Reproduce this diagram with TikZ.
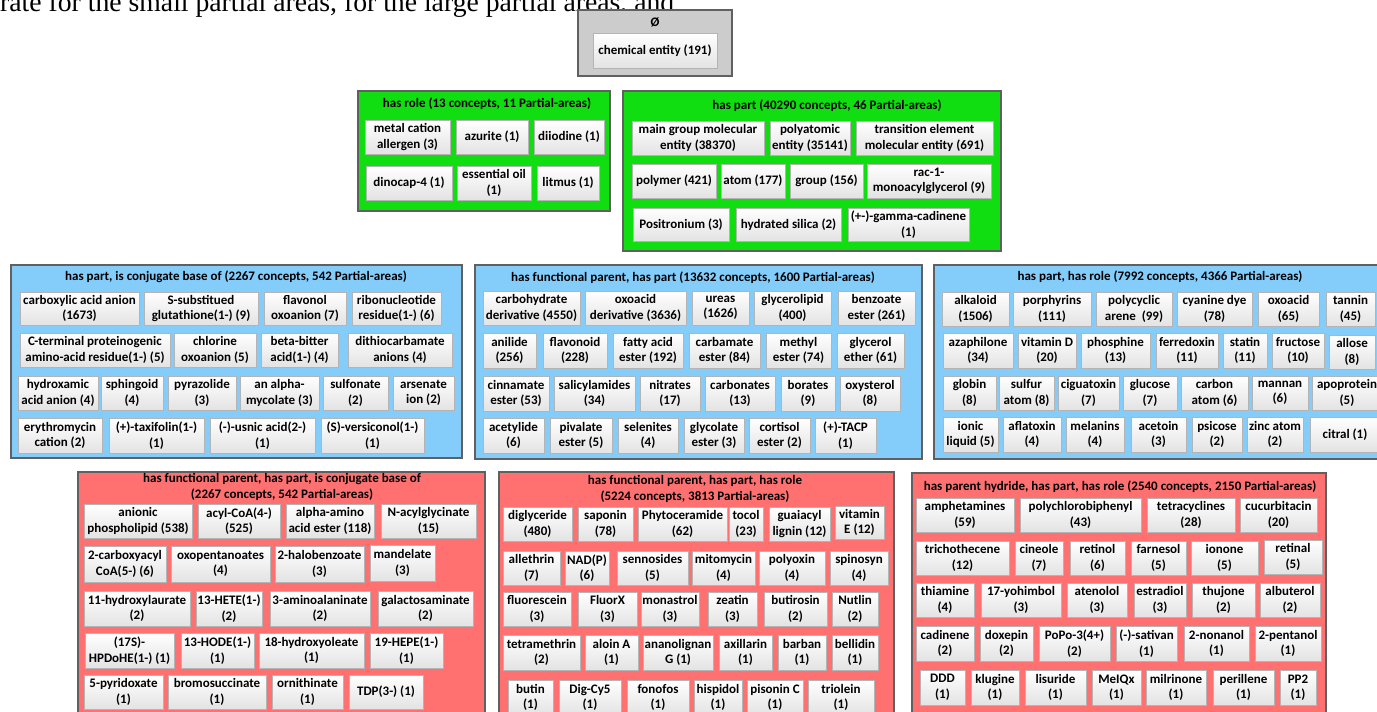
\documentclass[tikz,border=0pt]{standalone}
\usepackage{fontspec}
\setmainfont{Carlito}
\newfontfamily\serifcap{Liberation Serif}
\definecolor{grpgray}{RGB}{204,204,204}
\definecolor{grpgreen}{RGB}{16,222,16}
\definecolor{grpblue}{RGB}{132,204,250}
\definecolor{grpred}{RGB}{255,112,112}
\definecolor{grpline}{RGB}{96,96,96}
\definecolor{paline}{RGB}{180,180,180}
\newcommand\pafont{\bfseries\fontsize{13}{15.5}\selectfont}
\newcommand\B[7]{\node[#6, minimum width={(#4)-(#2)}, minimum height={(#5)-(#3)}] (#1) at ({((#2)+(#4))/2},{-((#3)+(#5))/2}) {#7};}
\tikzset{
  grp/.style={draw=grpline, line width=1.3pt, inner sep=0},
  pa/.style={draw=paline, line width=0.6pt, top color=white, bottom color=black!11, inner sep=0, align=center, font=\pafont},
  ttl/.style={inner sep=0, align=center, font=\pafont},
}
\begin{document}
\begin{tikzpicture}[x=1pt,y=1pt]
\useasboundingbox (0,0) rectangle (1377,-712);
\clip (0,0) rectangle (1377,-712);
\fill[white] (0,0) rectangle (1377,-712);
% caption fragment
\node[anchor=base west, inner sep=0, font=\serifcap\fontsize{27.7}{30}\selectfont] (cap) at (0,-11.5) {rate for the small partial areas, for the large partial areas, and};
% root
\B{root}{578}{10}{732}{76}{grp, fill=grpgray}{}
\node[ttl] (roott) at (655,-22) {Ø};
\B{ce}{593}{33}{717}{68}{pa}{chemical entity (191)}
% has role
\B{role}{358}{91}{610}{211}{grp, fill=grpgreen}{}
\node[ttl] (rolet) at (487,-104) {has role (13 concepts, 11 Partial-areas)};
\B{r1}{365}{120}{450}{154}{pa}{metal cation\\allergen (3)}
\B{r2}{456}{120}{528}{154}{pa}{azurite (1)}
\B{r3}{534}{120}{604}{154}{pa}{diiodine (1)}
\B{r4}{366}{166}{452}{200}{pa}{dinocap-4 (1)}
\B{r5}{457}{166}{531}{200}{pa}{essential oil\\(1)}
\B{r6}{537}{166}{599}{200}{pa}{litmus (1)}
% has part
\B{part}{623}{91}{1001}{251}{grp, fill=grpgreen}{}
\node[ttl] (partt) at (827,-106) {has part (40290 concepts, 46 Partial-areas)};
\B{p1}{632}{121}{764}{155}{pa}{main group molecular\\entity (38370)}
\B{p2}{770}{121}{850}{155}{pa}{polyatomic\\entity (35141)}
\B{p3}{856}{121}{993}{155}{pa}{transition element\\molecular entity (691)}
\B{p4}{632}{164}{716}{198}{pa}{polymer (421)}
\B{p5}{721}{164}{785}{198}{pa}{atom (177)}
\B{p6}{790}{164}{863}{198}{pa}{group (156)}
\B{p7}{867}{164}{991}{198}{pa}{rac-1-\\monoacylglycerol (9)}
\B{p8}{633}{208}{729}{241}{pa}{Positronium (3)}
\B{p9}{736}{208}{841}{241}{pa}{hydrated silica (2)}
\B{p10}{848}{208}{969}{241}{pa}{(+-)-gamma-cadinene\\(1)}
% blue left
\B{bl}{11}{265}{462}{458}{grp, fill=grpblue}{}
\node[ttl] (blt) at (236,-277) {has part, is conjugate base of (2267 concepts, 542 Partial-areas)};
\B{bl1}{20}{292}{139}{325}{pa}{carboxylic acid anion\\(1673)}
\B{bl2}{144}{292}{258}{325}{pa}{S-substitued\\glutathione(1-) (9)}
\B{bl3}{264}{292}{346}{325}{pa}{flavonol\\oxoanion (7)}
\B{bl4}{352}{292}{441}{325}{pa}{ribonucleotide\\residue(1-) (6)}
\B{bl5}{20}{333}{170}{367}{pa}{C-terminal proteinogenic\\amino-acid residue(1-) (5)}
\B{bl6}{174}{333}{256}{367}{pa}{chlorine\\oxoanion (5)}
\B{bl7}{261}{333}{338}{367}{pa}{beta-bitter\\acid(1-) (4)}
\B{bl8}{348}{333}{452}{367}{pa}{dithiocarbamate\\anions (4)}
\B{bl9}{18}{376}{98}{410}{pa}{hydroxamic\\acid anion (4)}
\B{bl10}{101}{376}{163}{410}{pa}{sphingoid\\(4)}
\B{bl11}{168}{376}{236}{410}{pa}{pyrazolide\\(3)}
\B{bl12}{240}{376}{319}{410}{pa}{an alpha-\\mycolate (3)}
\B{bl13}{323}{376}{388}{410}{pa}{sulfonate\\(2)}
\B{bl14}{393}{376}{454}{410}{pa}{arsenate\\ion (2)}
\B{bl15}{18}{418}{102}{453}{pa}{erythromycin\\cation (2)}
\B{bl16}{109}{418}{204}{453}{pa}{(+)-taxifolin(1-)\\(1)}
\B{bl17}{210}{418}{315}{453}{pa}{(-)-usnic acid(2-)\\(1)}
\B{bl18}{321}{418}{424}{453}{pa}{(S)-versiconol(1-)\\(1)}
% blue middle
\B{bm}{475}{265}{922}{459}{grp, fill=grpblue}{}
\node[ttl] (bmt) at (693,-278) {has functional parent, has part (13632 concepts, 1600 Partial-areas)};
\B{bm1}{483}{291}{580}{325}{pa}{carbohydrate\\derivative (4550)}
\B{bm2}{585}{291}{686}{325}{pa}{oxoacid\\derivative (3636)}
\B{bm3}{692}{291}{749}{325}{pa}{ureas\\(1626)}
\B{bm4}{754}{291}{831}{325}{pa}{glycerolipid\\(400)}
\B{bm5}{838}{291}{915}{325}{pa}{benzoate\\ester (261)}
\B{bm6}{483}{333}{536}{368}{pa}{anilide\\(256)}
\B{bm7}{543}{333}{607}{368}{pa}{flavonoid\\(228)}
\B{bm8}{613}{333}{683}{368}{pa}{fatty acid\\ester (192)}
\B{bm9}{689}{333}{760}{368}{pa}{carbamate\\ester (84)}
\B{bm10}{766}{333}{831}{368}{pa}{methyl\\ester (74)}
\B{bm11}{837}{333}{904}{368}{pa}{glycerol\\ether (61)}
\B{bm12}{483}{376}{549}{411}{pa}{cinnamate\\ester (53)}
\B{bm13}{554}{376}{635}{411}{pa}{salicylamides\\(34)}
\B{bm14}{640}{376}{700}{411}{pa}{nitrates\\(17)}
\B{bm15}{705}{376}{775}{411}{pa}{carbonates\\(13)}
\B{bm16}{781}{376}{835}{411}{pa}{borates\\(9)}
\B{bm17}{840}{376}{900}{411}{pa}{oxysterol\\(8)}
\B{bm18}{483}{418}{544}{453}{pa}{acetylide\\(6)}
\B{bm19}{550}{418}{612}{453}{pa}{pivalate\\ester (5)}
\B{bm20}{618}{418}{678}{453}{pa}{selenites\\(4)}
\B{bm21}{684}{418}{744}{453}{pa}{glycolate\\ester (3)}
\B{bm22}{749}{418}{810}{453}{pa}{cortisol\\ester (2)}
\B{bm23}{815}{418}{876}{453}{pa}{(+)-TACP\\(1)}
% blue right
\B{br}{934}{265}{1395}{459}{grp, fill=grpblue}{}
\node[ttl] (brt) at (1160,-277) {has part, has role (7992 concepts, 4366 Partial-areas)};
\B{br1}{942}{292}{1009}{326}{pa}{alkaloid\\(1506)}
\B{br2}{1013}{292}{1091}{326}{pa}{porphyrins\\(111)}
\B{br3}{1096}{292}{1172}{326}{pa}{polycyclic\\arene~ (99)}
\B{br4}{1177}{292}{1252}{326}{pa}{cyanine dye\\(78)}
\B{br5}{1258}{292}{1319}{326}{pa}{oxoacid\\(65)}
\B{br6}{1326}{292}{1375}{326}{pa}{tannin\\(45)}
\B{br7}{943}{333}{1013}{368}{pa}{azaphilone\\(34)}
\B{br8}{1018}{333}{1076}{368}{pa}{vitamin D\\(20)}
\B{br9}{1081}{333}{1150}{368}{pa}{phosphine\\(13)}
\B{br10}{1156}{333}{1218}{368}{pa}{ferredoxin\\(11)}
\B{br11}{1223}{333}{1267}{368}{pa}{statin\\(11)}
\B{br12}{1272}{333}{1324}{368}{pa}{fructose\\(10)}
\B{br13}{1329}{335}{1375}{369}{pa}{allose\\(8)}
\B{br14}{943}{376}{996}{410}{pa}{globin\\(8)}
\B{br15}{999}{376}{1054}{410}{pa}{sulfur\\atom (8)}
\B{br16}{1058}{376}{1119}{410}{pa}{ciguatoxin\\(7)}
\B{br17}{1123}{376}{1177}{410}{pa}{glucose\\(7)}
\B{br18}{1181}{376}{1248}{410}{pa}{carbon\\atom (6)}
\B{br19}{1252}{376}{1308}{410}{pa}{mannan\\(6)}
\B{br20}{1312}{376}{1382}{410}{pa}{apoprotein\\(5)}
\B{br21}{943}{417}{998}{452}{pa}{ionic\\liquid (5)}
\B{br22}{1003}{417}{1061}{452}{pa}{aflatoxin\\(4)}
\B{br23}{1066}{417}{1124}{452}{pa}{melanins\\(4)}
\B{br24}{1131}{417}{1186}{452}{pa}{acetoin\\(3)}
\B{br25}{1192}{417}{1242}{452}{pa}{psicose\\(2)}
\B{br26}{1247}{417}{1303}{452}{pa}{zinc atom\\(2)}
\B{br27}{1310}{417}{1380}{452}{pa}{citral (1)}
% red left
\B{rl}{78}{472}{485}{722}{grp, fill=grpred}{}
\node[ttl] (rlt) at (282,-487) {has functional parent, has part, is conjugate base of\\(2267 concepts, 542 Partial-areas)};
\B{rl1}{84}{504}{192}{538}{pa}{anionic\\phospholipid (538)}
\B{rl2}{198}{504}{280}{538}{pa}{acyl-CoA(4-)\\(525)}
\B{rl3}{286}{504}{374}{538}{pa}{alpha-amino\\acid ester (118)}
\B{rl4}{381}{504}{476}{538}{pa}{N-acylglycinate\\(15)}
\B{rl5}{84}{546}{166}{582}{pa}{2-carboxyacyl\\CoA(5-) (6)}
\B{rl6}{171}{546}{270}{582}{pa}{oxopentanoates\\(4)}
\B{rl7}{275}{546}{364}{582}{pa}{2-halobenzoate\\(3)}
\B{rl8}{370}{545}{435}{581}{pa}{mandelate\\(3)}
\B{rl9}{84}{591}{190}{626}{pa}{11-hydroxylaurate\\(2)}
\B{rl10}{196}{591}{262}{626}{pa}{13-HETE(1-)\\(2)}
\B{rl11}{270}{591}{370}{626}{pa}{3-aminoalaninate\\(2)}
\B{rl12}{378}{591}{473}{626}{pa}{galactosaminate\\(2)}
\B{rl13}{85}{633}{174}{668}{pa}{(17S)-\\HPDoHE(1-) (1)}
\B{rl14}{181}{633}{254}{668}{pa}{13-HODE(1-)\\(1)}
\B{rl15}{259}{633}{364}{668}{pa}{18-hydroxyoleate\\(1)}
\B{rl16}{370}{633}{443}{668}{pa}{19-HEPE(1-)\\(1)}
\B{rl17}{84}{675}{163}{709}{pa}{5-pyridoxate\\(1)}
\B{rl18}{168}{675}{266}{709}{pa}{bromosuccinate\\(1)}
\B{rl19}{272}{675}{343}{709}{pa}{ornithinate\\(1)}
\B{rl20}{349}{675}{423}{709}{pa}{TDP(3-) (1)}
% red middle
\B{rm}{499}{472}{894}{722}{grp, fill=grpred}{}
\node[ttl] (rmt) at (695,-489) {has functional parent, has part, has role\\(5224 concepts, 3813 Partial-areas)};
\B{rm1}{503}{507}{572}{541}{pa}{diglyceride\\(480)}
\B{rm2}{578}{507}{633}{541}{pa}{saponin\\(78)}
\B{rm3}{638}{507}{727}{541}{pa}{Phytoceramide\\(62)}
\B{rm4}{729}{507}{763}{541}{pa}{tocol\\(23)}
\B{rm5}{769}{507}{830}{541}{pa}{guaiacyl\\lignin (12)}
\B{rm6}{835}{506}{884}{539}{pa}{vitamin\\E (12)}
\B{rm7}{503}{551}{560}{585}{pa}{allethrin\\(7)}
\B{rm8}{565}{551}{609}{585}{pa}{NAD(P)\\(6)}
\B{rm9}{617}{551}{688}{585}{pa}{sennosides\\(5)}
\B{rm10}{692}{551}{755}{585}{pa}{mitomycin\\(4)}
\B{rm11}{759}{551}{825}{585}{pa}{polyoxin\\(4)}
\B{rm12}{830}{551}{888}{585}{pa}{spinosyn\\(4)}
\B{rm13}{503}{592}{571}{626}{pa}{fluorescein\\(3)}
\B{rm14}{578}{592}{637}{626}{pa}{FluorX\\(3)}
\B{rm15}{641}{592}{699}{626}{pa}{monastrol\\(3)}
\B{rm16}{708}{592}{757}{626}{pa}{zeatin\\(3)}
\B{rm17}{764}{592}{827}{626}{pa}{butirosin\\(2)}
\B{rm18}{832}{592}{878}{626}{pa}{Nutlin\\(2)}
\B{rm19}{503}{635}{580}{670}{pa}{tetramethrin\\(2)}
\B{rm20}{585}{635}{638}{670}{pa}{aloin A\\(1)}
\B{rm21}{643}{635}{713}{670}{pa}{ananolignan\\G (1)}
\B{rm22}{719}{635}{772}{670}{pa}{axillarin\\(1)}
\B{rm23}{778}{635}{826}{670}{pa}{barban\\(1)}
\B{rm24}{832}{635}{878}{670}{pa}{bellidin\\(1)}
\B{rm25}{508}{680}{553}{715}{pa}{butin\\(1)}
\B{rm26}{559}{680}{621}{715}{pa}{Dig-Cy5\\(1)}
\B{rm27}{627}{680}{689}{715}{pa}{fonofos\\(1)}
\B{rm28}{694}{680}{742}{715}{pa}{hispidol\\(1)}
\B{rm29}{747}{680}{803}{715}{pa}{pisonin C\\(1)}
\B{rm30}{808}{680}{874}{715}{pa}{triolein\\(1)}
% red right
\B{rr}{912}{473}{1326}{722}{grp, fill=grpred}{}
\node[ttl] (rrt) at (1120,-487) {has parent hydride, has part, has role (2540 concepts, 2150 Partial-areas)};
\B{rr1}{916}{498}{1014}{532}{pa}{amphetamines\\(59)}
\B{rr2}{1020}{498}{1141}{532}{pa}{polychlorobiphenyl\\(43)}
\B{rr3}{1147}{498}{1235}{532}{pa}{tetracyclines\\(28)}
\B{rr4}{1240}{498}{1317}{532}{pa}{cucurbitacin\\(20)}
\B{rr5}{916}{541}{1009}{575}{pa}{trichothecene\\(12)}
\B{rr6}{1015}{541}{1063}{575}{pa}{cineole\\(7)}
\B{rr7}{1070}{541}{1125}{575}{pa}{retinol\\(6)}
\B{rr8}{1131}{541}{1186}{575}{pa}{farnesol\\(5)}
\B{rr9}{1191}{541}{1258}{575}{pa}{ionone\\(5)}
\B{rr10}{1264}{540}{1322}{574}{pa}{retinal\\(5)}
\B{rr11}{916}{583}{974}{617}{pa}{thiamine\\(4)}
\B{rr12}{981}{583}{1061}{617}{pa}{17-yohimbol\\(3)}
\B{rr13}{1067}{583}{1127}{617}{pa}{atenolol\\(3)}
\B{rr14}{1134}{583}{1186}{617}{pa}{estradiol\\(3)}
\B{rr15}{1192}{583}{1255}{617}{pa}{thujone\\(2)}
\B{rr16}{1260}{583}{1320}{617}{pa}{albuterol\\(2)}
\B{rr17}{916}{626}{974}{661}{pa}{cadinene\\(2)}
\B{rr18}{980}{626}{1033}{661}{pa}{doxepin\\(2)}
\B{rr19}{1039}{626}{1110}{661}{pa}{PoPo-3(4+)\\(2)}
\B{rr20}{1116}{626}{1177}{661}{pa}{(-)-sativan\\(1)}
\B{rr21}{1184}{626}{1249}{661}{pa}{2-nonanol\\(1)}
\B{rr22}{1255}{626}{1321}{661}{pa}{2-pentanol\\(1)}
\B{rr23}{920}{670}{965}{705}{pa}{DDD\\(1)}
\B{rr24}{971}{670}{1019}{705}{pa}{klugine\\(1)}
\B{rr25}{1025}{670}{1086}{705}{pa}{lisuride\\(1)}
\B{rr26}{1092}{670}{1141}{705}{pa}{MeIQx\\(1)}
\B{rr27}{1146}{670}{1206}{705}{pa}{milrinone\\(1)}
\B{rr28}{1213}{670}{1274}{705}{pa}{perillene\\(1)}
\B{rr29}{1280}{670}{1316}{705}{pa}{PP2\\(1)}
\end{tikzpicture}
\end{document}
